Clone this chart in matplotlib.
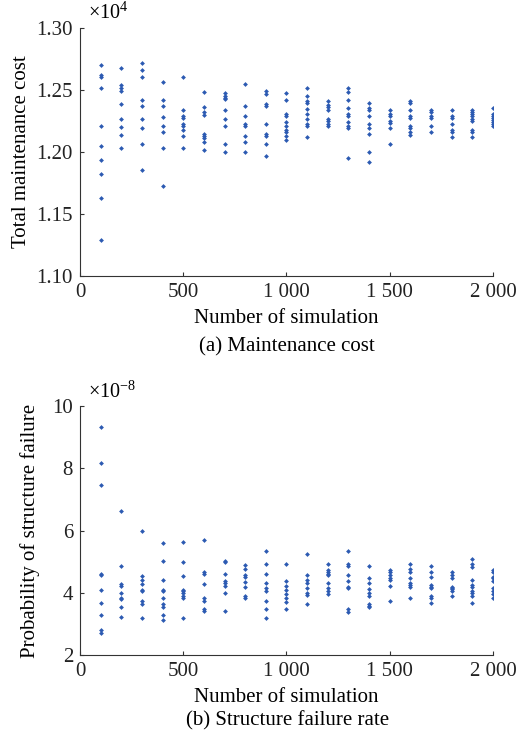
import matplotlib
matplotlib.use("Agg")
import matplotlib.pyplot as plt
from matplotlib.ticker import FuncFormatter

plt.rcParams['font.family'] = ['Liberation Serif', 'DejaVu Serif']
plt.rcParams['mathtext.fontset'] = 'custom'
plt.rcParams['mathtext.rm'] = 'Liberation Serif'
plt.rcParams['mathtext.it'] = 'Liberation Serif:italic'
plt.rcParams['font.size'] = 15

# number of simulations for each column of points
sims = [100, 200, 300, 400, 500, 600, 700, 800, 900, 1000,
        1100, 1200, 1300, 1400, 1500, 1600, 1700, 1800, 1900, 2000]

# total maintenance cost (x 10^4), one list per simulation count
cost = [
    [1.2699, 1.2620, 1.2601, 1.2519, 1.2213, 1.2051, 1.1936, 1.1824, 1.1630, 1.1293],
    [1.2681, 1.2537, 1.2519, 1.2492, 1.2388, 1.2263, 1.2199, 1.2133, 1.2032],
    [1.2715, 1.2665, 1.2601, 1.2423, 1.2372, 1.2263, 1.2197, 1.2066, 1.1856],
    [1.2566, 1.2423, 1.2372, 1.2279, 1.2213, 1.2162, 1.2032, 1.1729],
    [1.2601, 1.2340, 1.2293, 1.2271, 1.2229, 1.2213, 1.2178, 1.2130, 1.2032],
    [1.2487, 1.2359, 1.2324, 1.2298, 1.2149, 1.2130, 1.2114, 1.2082, 1.2016],
    [1.2473, 1.2452, 1.2439, 1.2426, 1.2340, 1.2263, 1.2213, 1.2066, 1.2003],
    [1.2551, 1.2372, 1.2290, 1.2229, 1.2207, 1.2130, 1.2082, 1.2003],
    [1.2492, 1.2468, 1.2388, 1.2372, 1.2226, 1.2146, 1.2130, 1.2066, 1.1971],
    [1.2473, 1.2420, 1.2309, 1.2287, 1.2242, 1.2213, 1.2181, 1.2165, 1.2130, 1.2098],
    [1.2519, 1.2455, 1.2410, 1.2394, 1.2343, 1.2309, 1.2263, 1.2226, 1.2210, 1.2117],
    [1.2410, 1.2375, 1.2359, 1.2340, 1.2266, 1.2247, 1.2226, 1.2207],
    [1.2519, 1.2487, 1.2420, 1.2356, 1.2309, 1.2293, 1.2245, 1.2213, 1.2197, 1.1952],
    [1.2391, 1.2356, 1.2340, 1.2290, 1.2229, 1.2194, 1.2141, 1.2000, 1.1920],
    [1.2340, 1.2306, 1.2293, 1.2247, 1.2231, 1.2197, 1.2064],
    [1.2410, 1.2394, 1.2340, 1.2293, 1.2277, 1.2213, 1.2194, 1.2162, 1.2136],
    [1.2340, 1.2324, 1.2293, 1.2277, 1.2213, 1.2165],
    [1.2340, 1.2293, 1.2277, 1.2229, 1.2181, 1.2162, 1.2117],
    [1.2340, 1.2324, 1.2309, 1.2293, 1.2263, 1.2250, 1.2181, 1.2165, 1.2117],
    [1.2356, 1.2309, 1.2293, 1.2277, 1.2261, 1.2245, 1.2229, 1.2210],
]

# probability of structure failure (x 10^-8)
pfail = [
    [9.333, 8.161, 7.484, 4.613, 4.570, 4.097, 3.688, 3.290, 2.817, 2.720],
    [6.624, 4.871, 4.269, 4.226, 4.000, 3.839, 3.806, 3.538, 3.237],
    [6.000, 4.527, 4.409, 4.269, 4.097, 4.054, 3.753, 3.645, 3.183],
    [5.591, 5.032, 4.409, 4.097, 4.054, 3.849, 3.645, 3.538, 3.290, 3.129],
    [5.645, 4.978, 4.527, 4.097, 4.054, 4.000, 3.892, 3.849, 3.183],
    [5.699, 4.667, 4.613, 4.269, 3.849, 3.753, 3.495, 3.430],
    [5.032, 4.978, 4.613, 4.366, 4.323, 4.226, 4.000, 3.430],
    [4.882, 4.774, 4.559, 4.505, 4.355, 4.204, 3.903, 3.839],
    [5.333, 4.925, 4.613, 4.312, 4.161, 4.054, 3.753, 3.495, 3.183],
    [4.925, 4.366, 4.215, 4.097, 3.957, 3.839, 3.699, 3.495],
    [5.237, 4.570, 4.409, 4.323, 4.161, 4.000, 3.946, 3.645],
    [4.925, 4.720, 4.667, 4.613, 4.570, 4.312, 4.161, 4.054, 3.957],
    [5.333, 4.914, 4.871, 4.570, 4.366, 4.204, 4.161, 3.495, 3.387],
    [4.871, 4.462, 4.312, 4.108, 4.000, 3.903, 3.645, 3.591, 3.538],
    [4.720, 4.677, 4.570, 4.462, 4.409, 4.215, 3.742],
    [4.925, 4.774, 4.667, 4.462, 4.312, 4.258, 4.204, 3.849],
    [4.871, 4.667, 4.516, 4.258, 4.204, 4.161, 3.903, 3.849, 3.688],
    [4.667, 4.570, 4.462, 4.204, 4.161, 4.108, 4.054, 3.903],
    [5.075, 4.925, 4.828, 4.409, 4.258, 4.204, 4.054, 4.000, 3.903, 3.688],
    [4.720, 4.667, 4.516, 4.462, 4.366, 4.161, 4.054, 3.957, 3.849],
]

cost_ticks = [1.10, 1.15, 1.20, 1.25, 1.30]
pfail_ticks = [2, 4, 6, 8, 10]
x_ticks = [0, 500, 1000, 1500, 2000]

dot_color = '#2c5ab2'


def thousands(v, pos):
    return f'{int(v):,}'.replace(',', ' ')


def scatter_columns(ax, values):
    for s, col in zip(sims, values):
        ax.scatter([s] * len(col), col, s=6, marker='D', color=dot_color,
                   linewidths=0, zorder=3)


def style_axes(ax):
    ax.spines['top'].set_visible(False)
    ax.spines['right'].set_visible(False)
    ax.spines['left'].set_color('#333333')
    ax.spines['bottom'].set_color('#333333')
    ax.tick_params(direction='in', length=3, width=0.8, colors='#333333',
                   labelcolor='#222222', labelsize=15)
    ax.tick_params(axis='x', pad=5)
    ax.tick_params(axis='y', pad=5)
    ax.set_xlim(0, 2000)
    ax.set_xticks(x_ticks)
    ax.xaxis.set_major_formatter(FuncFormatter(thousands))
    ax.set_xlabel('Number of simulation', fontsize=15, labelpad=5)


fig = plt.figure(figsize=(5.19, 7.36), dpi=100)
ax1 = fig.add_axes([0.1541, 0.625, 0.7958, 0.337])
ax2 = fig.add_axes([0.1541, 0.110, 0.7958, 0.338])

scatter_columns(ax1, cost)
style_axes(ax1)
ax1.set_ylim(1.10, 1.30)
ax1.set_yticks(cost_ticks)
ax1.set_yticklabels([f'{t:.2f}' for t in cost_ticks])
ax1.set_ylabel('Total maintenance cost', fontsize=15, labelpad=4)
ax1.text(0.02, 1.015, r'$\times 10^{4}$', transform=ax1.transAxes,
         fontsize=14.5, ha='left', va='bottom')

scatter_columns(ax2, pfail)
style_axes(ax2)
ax2.set_ylim(2, 10)
ax2.set_yticks(pfail_ticks)
ax2.set_ylabel('Probability of structure failure', fontsize=15, labelpad=9)
ax2.text(0.02, 1.015, r'$\times 10^{-8}$', transform=ax2.transAxes,
         fontsize=14.5, ha='left', va='bottom')

fig.text(0.5535, 1 - 347 / 736, '(a) Maintenance cost', ha='center',
         va='center', fontsize=15)
fig.text(0.5535, 1 - 721 / 736, '(b) Structure failure rate', ha='center',
         va='center', fontsize=15)

fig.savefig('out.png', dpi=100)
